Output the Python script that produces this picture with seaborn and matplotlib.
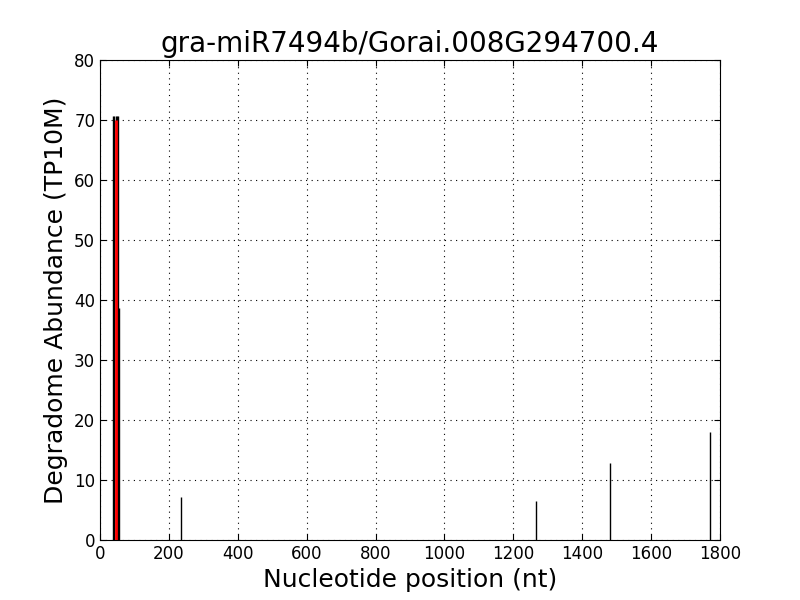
import matplotlib
matplotlib.use('Agg')
import matplotlib.pyplot as plt
import numpy as np
import seaborn as sns

# degradome reads per nucleotide position
positions = [37, 41, 45, 49, 51, 54, 234, 1266, 1481, 1771]
abundance = [70.7, 70.7, 70.7, 70.7, 70.7, 38.6, 7.1, 6.5, 12.9, 18.0]

# predicted cleavage site
cleave_pos = [45]
cleave_abund = [70.0]

title = 'gra-miR7494b/Gorai.008G294700.4'

sns.set_style('white', {
    'axes.edgecolor': 'black',
    'axes.linewidth': 1.0,
    'axes.labelcolor': 'black',
    'text.color': 'black',
    'xtick.color': 'black',
    'ytick.color': 'black',
    'xtick.direction': 'in',
    'ytick.direction': 'in',
    'xtick.top': True,
    'ytick.right': True,
    'xtick.bottom': True,
    'ytick.left': True,
})
plt.rcParams['font.family'] = ['DejaVu Sans']
plt.rcParams['xtick.major.size'] = 4
plt.rcParams['ytick.major.size'] = 4

fig = plt.figure(figsize=(8, 6), dpi=100)
ax = fig.add_axes([0.125, 0.1, 0.775, 0.8])

ax.vlines(positions, 0, abundance, colors='black', linewidth=1.0, zorder=3)
ax.vlines(cleave_pos, 0, cleave_abund, colors='red', linewidth=2.0, zorder=4)

ax.set_xlim(0, 1800)
ax.set_ylim(0, 80)
ax.set_xticks(np.arange(0, 1801, 200))
ax.set_yticks(np.arange(0, 81, 10))
ax.tick_params(labelsize=12, colors='black')
ax.grid(True, color='black', linestyle=(0, (1, 4)), linewidth=0.8)
ax.set_axisbelow(True)

ax.set_title(title, fontsize=20, color='black')
ax.set_xlabel('Nucleotide position (nt)', fontsize=18, color='black')
ax.set_ylabel('Degradome Abundance (TP10M)', fontsize=18, color='black')

fig.savefig('out.png', dpi=100)
